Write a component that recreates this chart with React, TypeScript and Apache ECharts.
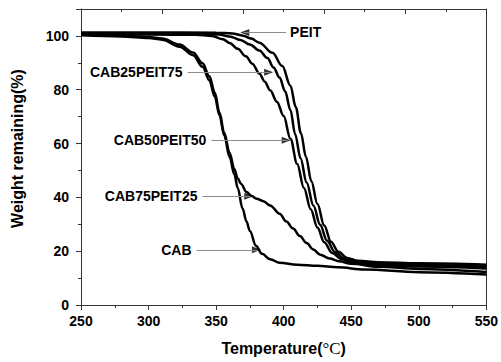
import React, { useEffect, useRef } from "react";
import * as echarts from "echarts";

// ---- data ----
const peitT = [250, 300, 350, 362, 370, 376, 382, 391.7, 399, 405, 409, 412.8, 416.5, 420.5, 425, 430, 435, 440.5, 447, 455, 470, 500, 550];
const peitW = [101.3, 101.3, 101.2, 100.9, 100.1, 99.0, 97.5, 93.7, 88.8, 81.5, 73.5, 63.8, 55, 46, 37.5, 29.5, 23.5, 19.8, 17.5, 16.4, 15.9, 15.5, 15.0];

const c25T = [250, 300, 340, 352, 360, 368, 375, 382, 388, 392.5, 397, 401, 405, 408.5, 412.5, 417, 422, 427, 432, 438, 445, 452, 470, 500, 550];
const c25W = [100.9, 100.9, 100.8, 100.5, 99.8, 98.5, 96.8, 94.6, 91.8, 88.3, 84.5, 79.5, 72.5, 63.5, 54.5, 45.5, 37, 29.8, 24.0, 19.6, 17.2, 16.2, 15.4, 14.9, 14.3];

const c50T = [250, 300, 335, 347, 355, 360, 366, 372, 377, 382, 386, 390, 395, 400, 405, 410, 415, 420, 425, 430, 436, 443, 450, 470, 500, 550];
const c50W = [100.5, 100.5, 100.4, 100.0, 98.8, 97.4, 95.2, 92.4, 89.6, 86.0, 83.0, 79.8, 75.5, 70.2, 61.8, 52.4, 43.5, 35.6, 28.8, 23.3, 19.3, 17.0, 15.9, 14.9, 14.3, 13.6];

const c75T = [250, 280, 300, 310, 323, 333, 340, 345, 349, 352.5, 356, 360, 363.5, 366, 368.5, 372.5, 376, 380, 385, 390, 397, 402, 407, 412, 417, 422, 427, 434, 441, 450, 470, 500, 550];
const c75W = [100.6, 100.2, 99.6, 99.0, 96.8, 93.8, 89.8, 85, 79, 71.5, 64, 56.5, 50.5, 47, 45, 42, 40.6, 39.5, 38.6, 37, 33.9, 31, 28.4, 25.6, 23, 20.6, 18.7, 17.3, 16.3, 15.3, 14.2, 13.4, 12.3];

const cabT = [250, 280, 300, 310, 323, 333, 340, 345, 349, 352.5, 356, 360, 363.5, 366, 369.5, 372.5, 375, 379.5, 384, 390, 397, 410, 425, 440, 460, 500, 550];
const cabW = [100.2, 99.8, 99.2, 98.6, 96.0, 92.8, 88.5, 83.5, 77.5, 70.5, 63, 55, 48.5, 43.5, 36, 31, 27.5, 22, 19, 17, 15.7, 15.0, 14.6, 14.0, 13.2, 12.2, 11.3];

const seriesNames = ["PEIT", "CAB25PEIT75", "CAB50PEIT50", "CAB75PEIT25", "CAB"];

// annotations: label, tail temperature, tip temperature, weight level
const annLabels = ["PEIT", "CAB25PEIT75", "CAB50PEIT50", "CAB75PEIT25", "CAB"];
const annTailT = [401.8, 328.9, 346.5, 339.9, 335.5];
const annTipT = [367.9, 392.2, 405.2, 377.5, 383.2];
const annW = [101.3, 86.5, 61.2, 40.4, 20.5];

const xTicks = { min: 250, max: 550, interval: 50 };
const yTicks = { min: 0, max: 110, interval: 20 };

const FONT = "'Liberation Sans', Arial, sans-serif";

export default function App() {
  const ref = useRef<HTMLDivElement>(null);
  useEffect(() => {
    if (!ref.current) return;
    const chart = echarts.init(ref.current, undefined, { renderer: "svg" });
    const curves = [
      [peitT, peitW],
      [c25T, c25W],
      [c50T, c50W],
      [c75T, c75W],
      [cabT, cabW],
    ];
    const lineSeries = curves.map(([t, w], i) => ({
      name: seriesNames[i],
      type: "line",
      data: t.map((x, k) => [x, w[k]]),
      showSymbol: false,
      smooth: 0.35,
      smoothMonotone: "x",
      lineStyle: { color: "#000", width: 2.5 },
      z: 3,
    }));
    const grayLines = annLabels.map((lab, i) => {
      const dir = annTipT[i] > annTailT[i] ? 1 : -1;
      return [
        {
          coord: [annTailT[i], annW[i]],
          label: {
            show: true,
            position: "start",
            formatter: lab,
            distance: dir > 0 ? 5 : 4,
            color: "#000",
            fontFamily: FONT,
            fontWeight: "bold",
            fontSize: 14,
            padding: [0, 0, 11, 0],
          },
        },
        { coord: [annTipT[i] - dir * 2.5, annW[i]] },
      ];
    });
    const arrowData = annLabels.map((lab, i) => {
      const dir = annTipT[i] > annTailT[i] ? 1 : -1;
      return {
        value: [annTipT[i], annW[i]],
        symbolRotate: dir > 0 ? -90 : 90,
        symbolOffset: [dir > 0 ? -4.5 : 4.5, 0],
      };
    });
    const option: any = {
      animation: false,
      backgroundColor: "#fff",
      grid: { left: 81, right: 13, top: 9, bottom: 52, containLabel: false },
      xAxis: [
        {
          type: "value",
          position: "bottom",
          min: xTicks.min,
          max: xTicks.max,
          interval: xTicks.interval,
          axisLine: { show: true, lineStyle: { color: "#333", width: 1 } },
          axisTick: { show: true, inside: false, length: 5, lineStyle: { color: "#333" } },
          minorTick: { show: true, splitNumber: 2, length: 3, lineStyle: { color: "#333" } },
          splitLine: { show: false },
          axisLabel: { color: "#000", fontFamily: FONT, fontWeight: "bold", fontSize: 14, margin: 9 },
          name: "Temperature({s|°C})",
          nameLocation: "middle",
          nameGap: 35,
          nameTextStyle: {
            color: "#000",
            fontFamily: FONT,
            fontWeight: "bold",
            fontSize: 16,
            rich: {
              s: { fontFamily: "'Liberation Serif', 'Times New Roman', serif", fontWeight: "normal", fontSize: 17, color: "#000" },
            },
          },
        },
        {
          type: "value",
          position: "top",
          min: 250,
          max: 550,
          interval: 60,
          axisLine: { show: true, onZero: false, lineStyle: { color: "#333", width: 1 } },
          axisTick: { show: true, inside: true, length: 5, lineStyle: { color: "#333" } },
          minorTick: { show: true, splitNumber: 2, length: 3, lineStyle: { color: "#333" } },
          splitLine: { show: false },
          axisLabel: { show: false },
        },
      ],
      yAxis: [
        {
          type: "value",
          position: "left",
          min: yTicks.min,
          max: yTicks.max,
          interval: yTicks.interval,
          axisLine: { show: true, lineStyle: { color: "#333", width: 1 } },
          axisTick: { show: true, inside: false, length: 5, lineStyle: { color: "#333" } },
          minorTick: { show: true, splitNumber: 2, length: 3, lineStyle: { color: "#333" } },
          splitLine: { show: false },
          axisLabel: {
            color: "#000",
            fontFamily: FONT,
            fontWeight: "bold",
            fontSize: 14,
            margin: 12,
            showMaxLabel: false,
          },
          name: "Weight remaining(%)",
          nameLocation: "middle",
          nameGap: 56,
          nameTextStyle: {
            color: "#000",
            fontFamily: FONT,
            fontWeight: "bold",
            fontSize: 16,
            padding: [0, 0, 0, 17],
          },
        },
        {
          type: "value",
          position: "right",
          min: 0,
          max: 110,
          axisLine: { show: true, onZero: false, lineStyle: { color: "#333", width: 1 } },
          axisTick: { show: false },
          splitLine: { show: false },
          axisLabel: { show: false },
        },
      ],
      series: [
        ...lineSeries,
        {
          type: "line",
          data: [],
          silent: true,
          markLine: {
            silent: true,
            symbol: ["none", "none"],
            lineStyle: { color: "#8c8c8c", width: 1, type: "solid" },
            data: grayLines,
            animation: false,
          },
        },
        {
          type: "scatter",
          silent: true,
          data: arrowData,
          symbol: "triangle",
          symbolSize: [7, 9],
          itemStyle: { color: "#000" },
          z: 4,
        },
      ],
    };
    chart.setOption(option);
    return () => chart.dispose();
  }, []);
  return (
    <div
      ref={ref}
      style={{ position: "fixed", left: 0, top: 0, width: 501, height: 362, background: "#fff" }}
    />
  );
}
